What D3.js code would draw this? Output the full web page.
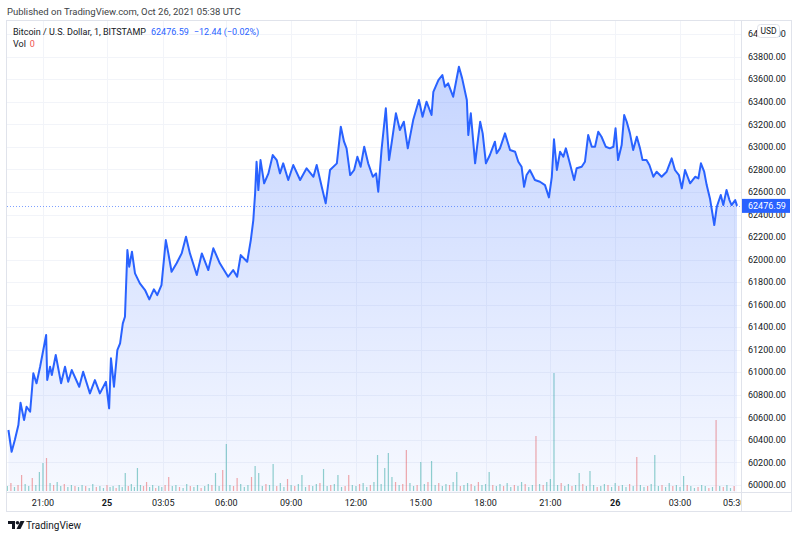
<!DOCTYPE html>
<html>
<head>
<meta charset="utf-8">
<script src="https://cdn.jsdelivr.net/npm/d3@7"></script>
<style>
  body { margin: 0; background: #fff; }
  text { font-family: Roboto, "Liberation Sans", sans-serif; }
</style>
</head>
<body>
<div id="chart"></div>
<script>

// DATA

// 1 minute BTCUSD, sampled at the visible turning points ("day hh:mm", Oct 2021)
let lineTimes = [
  "24 19:23","24 19:32","24 19:41","24 19:51","24 19:57","24 20:07","24 20:14","24 20:24","24 20:33","24 20:42",
  "24 20:52","24 21:09","24 21:12","24 21:20","24 21:25","24 21:36","24 21:51","24 22:02","24 22:11","24 22:21",
  "24 22:42","24 22:53","24 23:12","24 23:26","24 23:40","24 23:57","25 00:07","25 00:13","25 00:23","25 00:34",
  "25 00:43","25 00:52","25 00:59","25 01:07","25 01:13","25 01:22","25 01:32","25 01:48","25 02:05","25 02:19",
  "25 02:34","25 02:45","25 02:59","25 03:12","25 03:19","25 03:28","25 03:42","25 03:56","25 04:08","25 04:19",
  "25 04:38","25 04:52","25 05:10","25 05:24","25 05:42","25 06:05","25 06:19","25 06:30","25 06:40","25 06:58",
  "25 07:08","25 07:15","25 07:20","25 07:24","25 07:29","25 07:35","25 07:45","25 07:57","25 08:09","25 08:20",
  "25 08:29","25 08:38","25 08:52","25 09:06","25 09:25","25 09:43","25 10:02","25 10:11","25 10:25","25 10:36",
  "25 10:48","25 11:07","25 11:18","25 11:27","25 11:34","25 11:44","25 11:55","25 12:04","25 12:13","25 12:23",
  "25 12:34","25 12:47","25 12:56","25 13:02","25 13:11","25 13:23","25 13:32","25 13:39","25 13:51","25 14:02",
  "25 14:13","25 14:24","25 14:39","25 14:55","25 15:05","25 15:16","25 15:30","25 15:35","25 15:49","25 16:00",
  "25 16:07","25 16:16","25 16:30","25 16:46","25 16:55","25 17:08","25 17:12","25 17:19","25 17:31","25 17:37",
  "25 17:45","25 17:52","25 18:01","25 18:12","25 18:26","25 18:31","25 18:40","25 18:54","25 19:08","25 19:22",
  "25 19:31","25 19:40","25 19:47","25 19:54","25 20:03","25 20:17","25 20:31","25 20:45","25 20:56","25 21:04",
  "25 21:10","25 21:18","25 21:27","25 21:36","25 21:43","25 21:54","25 22:06","25 22:13","25 22:27","25 22:36",
  "25 22:45","25 22:55","25 23:04","25 23:13","25 23:22","25 23:34","25 23:45","25 23:55","26 00:01","26 00:08",
  "26 00:18","26 00:25","26 00:32","26 00:41","26 00:50","26 01:00","26 01:09","26 01:16","26 01:27","26 01:35",
  "26 01:46","26 01:55","26 02:09","26 02:23","26 02:37","26 02:46","26 02:57","26 03:05","26 03:14","26 03:28",
  "26 03:42","26 03:51","26 03:58","26 04:07","26 04:14","26 04:23","26 04:35","26 04:42","26 04:53","26 05:00",
  "26 05:09","26 05:17","26 05:23","26 05:33","26 05:38"
]

let linePrices = [
  60488,60295,60399,60532,60730,60576,60694,60650,60991,60902,
  61049,61331,60931,61049,60976,61153,60902,61049,60916,61020,
  60872,61005,60813,60931,60813,60916,60680,61124,60872,61197,
  61257,61434,61493,62085,61937,62070,61878,61789,61730,61647,
  61736,61685,61774,62173,62055,61892,61967,62055,62203,62055,
  61863,62055,61907,62100,61967,61848,61907,61848,62040,61981,
  62173,62351,62588,62868,62617,62883,62677,62765,62928,62883,
  62765,62854,62706,62839,62706,62810,62735,62839,62646,62499,
  62795,62854,63179,63046,62987,62750,62795,62913,62824,63001,
  62854,62735,62765,62602,62972,63342,62883,63031,63298,63150,
  63223,62987,63238,63416,63268,63401,63283,63489,63593,63638,
  63534,63564,63445,63711,63608,63416,63105,63298,62854,63016,
  63223,63120,62854,62928,63046,62943,62987,63120,62972,62957,
  62868,62824,62646,62750,62795,62706,62691,62661,62552,62735,
  63067,62795,62957,62913,62987,62854,62706,62810,62824,62868,
  63105,63001,63001,63134,63090,63001,62987,63001,63165,62883,
  63016,63283,63223,63120,62972,63090,62987,62883,62883,62839,
  62735,62780,62735,62780,62898,62795,62750,62632,62795,62677,
  62735,62721,62854,62780,62661,62543,62307,62469,62573,62484,
  62617,62528,62484,62528,62476.59
]

// volume per 10 minutes from 24 19:20, sign = candle direction (+ up / - down)
let volStart = "24 19:20"
let volStepMinutes = 10
let volumes = [
  5,-8,4,-6,-16,7,5,-13,6,19,
  28,-33,8,-6,9,5,-7,4,6,-5,
  4,6,-5,3,7,-4,5,3,-6,4,
  5,-3,6,4,18,-5,7,4,23,6,
  -5,-9,4,6,-3,5,4,-6,-14,5,
  6,-4,3,7,-5,4,6,-3,5,7,
  -6,18,5,-21,47,6,-5,-13,7,4,
  6,-14,25,18,5,-7,6,27,-5,8,
  4,-12,6,-5,7,16,4,-6,5,7,
  -8,22,5,-6,7,16,4,-5,-16,6,
  5,-7,8,4,-6,9,36,7,23,38,
  14,-9,6,-7,-41,8,5,-6,29,7,
  -9,30,6,-8,5,7,-6,9,19,-5,
  6,8,-7,5,-9,6,7,19,-6,5,
  7,-5,8,4,-6,5,9,-7,4,6,
  -55,7,-6,9,12,118,6,-8,5,7,
  -5,6,18,-7,5,20,6,-4,5,7,
  -6,4,8,-5,6,4,-7,5,-34,6,
  4,-5,7,36,5,-6,4,8,-5,6,
  4,15,-6,5,3,-4,6,5,-3,4,
  -71,5,-4,6,3,-5
]

// axis ticks
let timeTicks = ["24 21:00","25 00:00","25 03:05","25 06:00","25 09:00","25 12:00","25 15:00","25 18:00","25 21:00","26 00:00","26 03:00","26 05:30"]
let timeTickLabels = ["21:00","25","03:05","06:00","09:00","12:00","15:00","18:00","21:00","26","03:00","05:30"]
let boldTicks = ["25","26"]
let priceTicks = d3.range(60000, 64001, 200)

let lastPrice = 62476.59
let change = "\u221212.44 (\u22120.02%)"

// LAYOUT

let width = 800, height = 538
let plot = {left: 7, right: 741, top: 21, bottom: 492}

let parseTime = s => d3.timeParse("%Y-%m-%d %H:%M")("2021-10-" + s)

let lineData = lineTimes.map((t, i) => ({time: parseTime(t), price: linePrices[i]}))
let volData = volumes.map((v, i) => ({
  time: d3.timeMinute.offset(parseTime(volStart), i * volStepMinutes),
  vol: Math.abs(v),
  up: v >= 0
}))

let svg = d3.select("#chart").append("svg")
  .attr("width", width)
  .attr("height", height)

// tradingview skips bars with no trades, so the time axis is stretched in pieces
let x = d3.scaleTime()
  .domain(["24 19:19", "25 00:00", "25 03:05", "26 03:00", "26 05:38"].map(parseTime))
  .range([plot.left, 107, 163.3, 680, 737])

let y = d3.scaleLinear()
  .domain([60000, 64000])
  .range([485, 34.2])

let yVol = d3.scaleLinear()
  .domain([0, 120])
  .range([plot.bottom - 1, plot.bottom - 121])

svg.append("defs").append("clipPath").attr("id", "plotClip")
  .append("rect")
  .attr("x", plot.left).attr("y", plot.top)
  .attr("width", plot.right - plot.left).attr("height", plot.bottom - plot.top)

let grad = svg.select("defs").append("linearGradient")
  .attr("id", "areaFill")
  .attr("gradientUnits", "userSpaceOnUse")
  .attr("x1", 0).attr("x2", 0)
  .attr("y1", y(63800)).attr("y2", plot.bottom)
grad.append("stop").attr("offset", 0).attr("stop-color", "rgba(41,98,255,0.28)")
grad.append("stop").attr("offset", 1).attr("stop-color", "rgba(41,98,255,0.04)")

// header
svg.append("text")
  .attr("x", 7).attr("y", 15)
  .attr("font-size", 9.5)
  .attr("fill", "#3d3f45")
  .text("Published on TradingView.com, Oct 26, 2021 05:38 UTC")

// frame
svg.append("rect")
  .attr("x", 6.5).attr("y", 20.5)
  .attr("width", 785).attr("height", 491)
  .attr("fill", "none")
  .attr("stroke", "#e0e3eb")

let body = svg.append("g").attr("clip-path", "url(#plotClip)")

// grid
body.selectAll(".hgrid").data(priceTicks).enter()
  .append("line")
  .attr("class", "hgrid")
  .attr("x1", plot.left).attr("x2", plot.right)
  .attr("y1", d => Math.round(y(d)) + 0.5)
  .attr("y2", d => Math.round(y(d)) + 0.5)
  .attr("stroke", "#f2f4f9")

body.selectAll(".vgrid").data(timeTicks).enter()
  .append("line")
  .attr("class", "vgrid")
  .attr("x1", d => Math.round(x(parseTime(d))) + 0.5)
  .attr("x2", d => Math.round(x(parseTime(d))) + 0.5)
  .attr("y1", plot.top).attr("y2", plot.bottom)
  .attr("stroke", "#f2f4f9")

// volume
body.selectAll(".vol").data(volData).enter()
  .append("rect")
  .attr("class", "vol")
  .attr("x", d => x(d.time) - 0.6)
  .attr("width", 1.2)
  .attr("y", d => yVol(d.vol))
  .attr("height", d => yVol(0) - yVol(d.vol))
  .attr("fill", d => d.up ? "rgba(38,166,154,0.5)" : "rgba(239,83,80,0.5)")

// area + line
let area = d3.area()
  .x(d => x(d.time))
  .y0(plot.bottom)
  .y1(d => y(d.price))

let line = d3.line()
  .x(d => x(d.time))
  .y(d => y(d.price))

body.append("path")
  .datum(lineData)
  .attr("d", area)
  .attr("fill", "url(#areaFill)")

body.append("path")
  .datum(lineData)
  .attr("d", line)
  .attr("fill", "none")
  .attr("stroke", "#2962ff")
  .attr("stroke-width", 2)
  .attr("stroke-linejoin", "round")

// last price dotted line
body.append("line")
  .attr("x1", plot.left).attr("x2", plot.right)
  .attr("y1", Math.round(y(lastPrice)) + 0.5)
  .attr("y2", Math.round(y(lastPrice)) + 0.5)
  .attr("stroke", "#2962ff")
  .attr("stroke-opacity", 0.6)
  .attr("stroke-dasharray", "1,2")

// separators
svg.append("line")
  .attr("x1", plot.right + 0.5).attr("x2", plot.right + 0.5)
  .attr("y1", 20).attr("y2", 512)
  .attr("stroke", "#e0e3eb")
svg.append("line")
  .attr("x1", 6).attr("x2", 792)
  .attr("y1", plot.bottom + 0.5).attr("y2", plot.bottom + 0.5)
  .attr("stroke", "#e0e3eb")

// price axis
svg.append("g").selectAll("text").data(priceTicks).enter()
  .append("text")
  .attr("x", 748)
  .attr("y", d => y(d))
  .attr("dy", "0.35em")
  .attr("font-size", 9)
  .attr("fill", "#131722")
  .text(d => d3.format(".2f")(d))

let yl = y(lastPrice)
svg.append("rect")
  .attr("x", plot.right + 1).attr("y", yl - 7)
  .attr("width", 48).attr("height", 14)
  .attr("fill", "#2962ff")
svg.append("text")
  .attr("x", 748).attr("y", yl)
  .attr("dy", "0.35em")
  .attr("font-size", 9)
  .attr("fill", "#fff")
  .text(d3.format(".2f")(lastPrice))

// USD badge
svg.append("rect")
  .attr("x", 757.5).attr("y", 24.5)
  .attr("width", 22).attr("height", 13)
  .attr("rx", 3)
  .attr("fill", "#fff")
  .attr("stroke", "#e0e3eb")
svg.append("text")
  .attr("x", 768.5).attr("y", 31)
  .attr("dy", "0.35em")
  .attr("text-anchor", "middle")
  .attr("font-size", 8.5)
  .attr("fill", "#131722")
  .text("USD")

// time axis
let timeAxis = svg.append("g")
  .attr("clip-path", "url(#timeClip)")
svg.select("defs").append("clipPath").attr("id", "timeClip")
  .append("rect")
  .attr("x", plot.left).attr("y", plot.bottom)
  .attr("width", plot.right - plot.left).attr("height", 20)

timeAxis.selectAll("text").data(timeTicks).enter()
  .append("text")
  .attr("x", d => x(parseTime(d)))
  .attr("y", 502.5)
  .attr("dy", "0.35em")
  .attr("text-anchor", "middle")
  .attr("font-size", 9)
  .attr("font-weight", (d, i) => boldTicks.includes(timeTickLabels[i]) ? "bold" : "normal")
  .attr("fill", "#131722")
  .text((d, i) => timeTickLabels[i])

// legend
let legend = svg.append("text")
  .attr("x", 13).attr("y", 32)
  .attr("dy", "0.35em")
  .attr("font-size", 9)
  .attr("fill", "#131722")
legend.append("tspan").text("Bitcoin / U.S. Dollar, 1, BITSTAMP")
legend.append("tspan").attr("dx", 5).attr("fill", "#2962ff").text(d3.format(".2f")(lastPrice))
legend.append("tspan").attr("dx", 5).attr("fill", "#2962ff").text(change)

let vol = svg.append("text")
  .attr("x", 13).attr("y", 43.5)
  .attr("dy", "0.35em")
  .attr("font-size", 9)
  .attr("fill", "#131722")
vol.append("tspan").text("Vol")
vol.append("tspan").attr("dx", 4).attr("fill", "#ef5350").text("0")

// footer logo
let logo = svg.append("g").attr("transform", "translate(8,521)").attr("fill", "#131722")
logo.append("path").attr("d", "M0,0 H7 V8 H4 V3 H0 Z")
logo.append("circle").attr("cx", 9.5).attr("cy", 1.8).attr("r", 1.8)
logo.append("path").attr("d", "M12.5,0 H16.5 L12.5,8 H8.5 Z")

svg.append("text")
  .attr("x", 26).attr("y", 525.5)
  .attr("dy", "0.35em")
  .attr("font-size", 10)
  .attr("fill", "#131722")
  .text("TradingView")

</script>
</body>
</html>
